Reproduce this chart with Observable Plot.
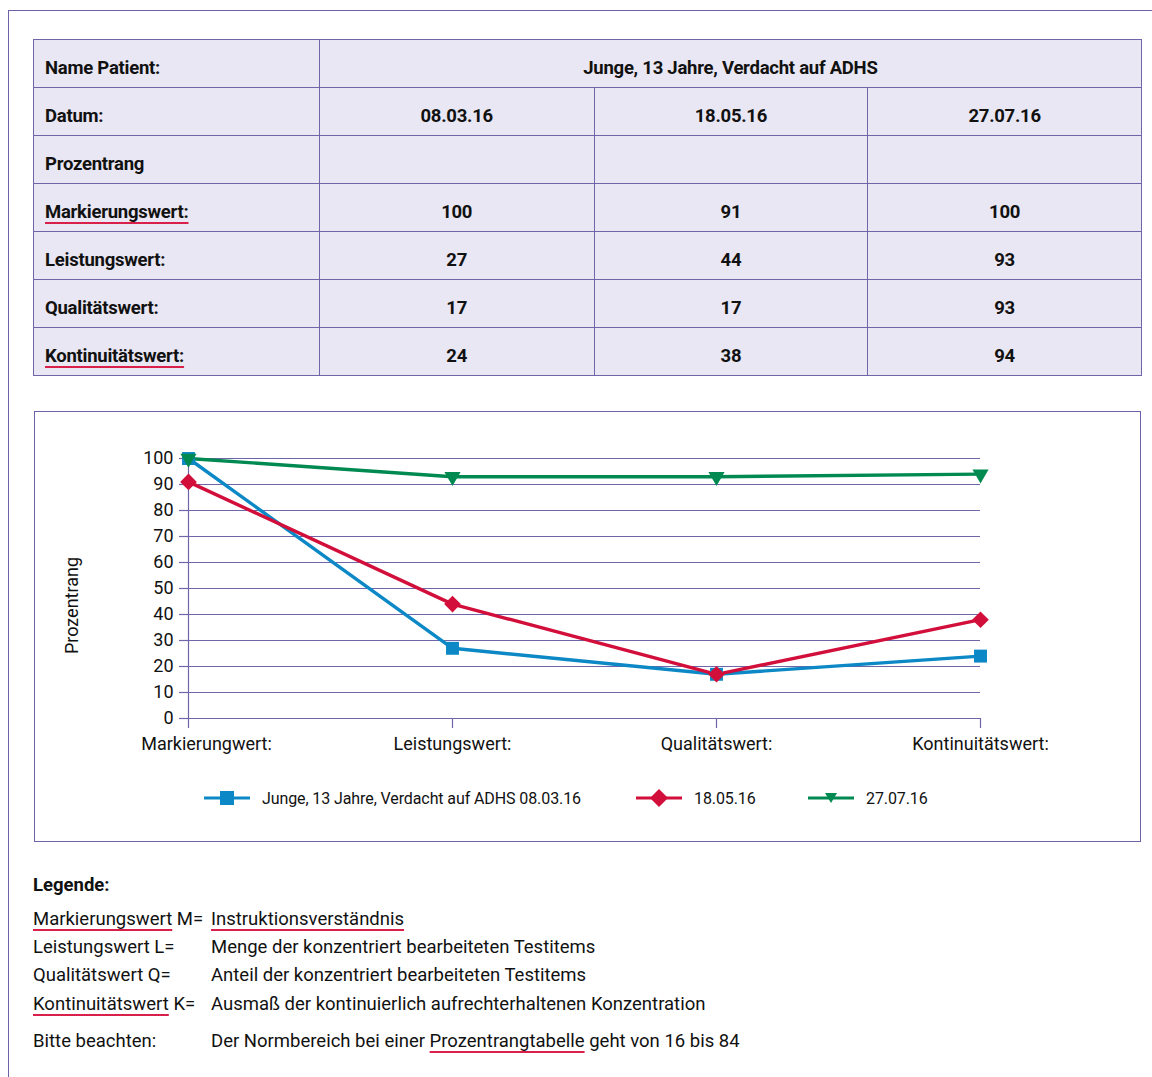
<!DOCTYPE html>
<html lang="de">
<head>
<meta charset="utf-8">
<script src="https://cdn.jsdelivr.net/npm/d3@7"></script>
<script src="https://cdn.jsdelivr.net/npm/@observablehq/plot@0.6"></script>
<style>
  html, body { margin: 0; padding: 0; background: #fff; overflow: hidden; }
  body { width: 1152px; height: 1077px; position: relative; font-family: Roboto, "Noto Sans", sans-serif; color: #111; }
  .rahmen { position: absolute; left: 8px; top: 10px; width: 1170px; height: 1100px; border: 1.5px solid #6b62a8; box-sizing: border-box; }
  table.werte { position: absolute; left: 33px; top: 39px; width: 1109px; border-collapse: collapse; background: #e9e7f3; font-weight: 700; font-size: 18.5px; letter-spacing: -0.25px; }
  table.werte td { border: 1.5px solid #6f66aa; height: 48px; padding: 8px 0 0 0; text-align: center; vertical-align: middle; box-sizing: border-box; }
  table.werte td.kopf { text-align: left; padding-left: 11px; }
  .rot { text-decoration: underline; text-decoration-color: #d9204a; text-decoration-thickness: 1.5px; text-underline-offset: 4px; }
  .diagramm { position: absolute; left: 34px; top: 411px; width: 1107px; height: 431px; border: 1.3px solid #6b62a8; box-sizing: border-box; }
  #plot { position: absolute; left: 34px; top: 411px; }
  .legende { position: absolute; top: 787px; height: 22px; display: flex; align-items: center; font-size: 16px; letter-spacing: -0.1px; }
  .legende svg { margin-right: 10px; }
  .erkl { position: absolute; left: 33px; font-size: 18.5px; line-height: 22px; }
  .erkl b { font-weight: 700; }
  .sp2 { position: absolute; left: 211px; font-size: 18.5px; line-height: 22px; }
</style>
</head>
<body>
<div class="rahmen"></div>
<table class="werte" id="tabelle"></table>
<div class="diagramm"></div>
<div id="plot"></div>
<div id="legende"></div>

<div class="erkl" style="top:874px"><b>Legende:</b></div>
<div class="erkl" style="top:908px"><span class="rot">Markierungswert</span> M=</div>
<div class="sp2" style="top:908px"><span class="rot">Instruktionsverständnis</span></div>
<div class="erkl" style="top:936px">Leistungswert L=</div>
<div class="sp2" style="top:936px">Menge der konzentriert bearbeiteten Testitems</div>
<div class="erkl" style="top:964px">Qualitätswert Q=</div>
<div class="sp2" style="top:964px">Anteil der konzentriert bearbeiteten Testitems</div>
<div class="erkl" style="top:993px"><span class="rot">Kontinuitätswert</span> K=</div>
<div class="sp2" style="top:993px">Ausmaß der kontinuierlich aufrechterhaltenen Konzentration</div>
<div class="erkl" style="top:1030px">Bitte beachten:</div>
<div class="sp2" style="top:1030px">Der Normbereich bei einer <span class="rot">Prozentrangtabelle</span> geht von 16 bis 84</div>

<script>
// Testdaten: Prozentränge je Messzeitpunkt
const patient = "Junge, 13 Jahre, Verdacht auf ADHS";
const termine = ["08.03.16", "18.05.16", "27.07.16"];
const tabellenZeilen = ["Markierungswert:", "Leistungswert:", "Qualitätswert:", "Kontinuitätswert:"];
const kategorien = ["Markierungwert:", "Leistungswert:", "Qualitätswert:", "Kontinuitätswert:"];
const werte080316 = [100, 27, 17, 24];
const werte180516 = [91, 44, 17, 38];
const werte270716 = [100, 93, 93, 94];
const yTicks = [0, 10, 20, 30, 40, 50, 60, 70, 80, 90, 100];

const serien = [
  {name: patient + " " + termine[0], werte: werte080316, farbe: "#0b88c5", symbol: "square", r: 7.3, rotate: 0},
  {name: termine[1], werte: werte180516, farbe: "#d20f3a", symbol: "diamond2", r: 7.5, rotate: 0},
  {name: termine[2], werte: werte270716, farbe: "#008a52", symbol: "triangle", r: 6, rotate: 180}
];

const linie = "#6f66aa";
const schrift = 'Roboto, "Noto Sans", sans-serif';

// Tabelle
const tab = document.getElementById("tabelle");
const unterstrichen = new Set(["Markierungswert:", "Kontinuitätswert:"]);
let html = `<colgroup><col style="width:286px"><col style="width:275px"><col style="width:274px"><col style="width:274px"></colgroup>`;
html += `<tr><td class="kopf">Name Patient:</td><td colspan="3">${patient}</td></tr>`;
html += `<tr><td class="kopf">Datum:</td>${termine.map(t => `<td>${t}</td>`).join("")}</tr>`;
html += `<tr><td class="kopf">Prozentrang</td><td></td><td></td><td></td></tr>`;
tabellenZeilen.forEach((z, i) => {
  const label = unterstrichen.has(z) ? `<span class="rot">${z}</span>` : z;
  html += `<tr><td class="kopf">${label}</td>${serien.map(s => `<td>${s.werte[i]}</td>`).join("")}</tr>`;
});
tab.innerHTML = html;

// Diagramm
const zeilen = serien.flatMap(s => s.werte.map((w, i) => ({serie: s.name, kategorie: kategorien[i], wert: w})));

const chart = Plot.plot({
  width: 1106,
  height: 360,
  marginLeft: 154,
  marginRight: 160,
  marginTop: 47,
  marginBottom: 53,
  style: {fontFamily: schrift, fontSize: "18px", color: "#111", background: "transparent", overflow: "visible"},
  x: {type: "point", domain: kategorien, padding: 0},
  y: {domain: [0, 100]},
  color: {domain: serien.map(s => s.name), range: serien.map(s => s.farbe)},
  marks: [
    Plot.ruleY(yTicks, {stroke: linie, strokeWidth: 1.2}),
    // senkrechte Achse, unten um die Tick-Länge verlängert
    Plot.ruleX([kategorien[0]], {stroke: linie, strokeWidth: 1.2, insetBottom: -10}),
    Plot.axisY({ticks: yTicks, tickSize: 9, tickPadding: 6, stroke: linie, strokeWidth: 1.2, label: null, fill: "#111"}),
    Plot.axisX(kategorien.slice(1), {tickSize: 10, tickPadding: 9, stroke: linie, strokeWidth: 1.2, label: null, fill: "#111"}),
    // erste Kategorie: Beschriftung etwas nach rechts versetzt
    Plot.axisX([kategorien[0]], {tickSize: 0, tickPadding: 19, dx: 18, label: null, fill: "#111"}),
    Plot.text(["Prozentrang"], {frameAnchor: "left", textAnchor: "middle", dx: -116, dy: 17, rotate: -90, fontSize: 18, fill: "#111"}),
    Plot.line(zeilen, {x: "kategorie", y: "wert", z: "serie", stroke: "serie", strokeWidth: 3.4}),
    ...serien.map(s => Plot.dot(zeilen.filter(d => d.serie === s.name), {
      x: "kategorie", y: "wert", symbol: () => s.symbol, fill: s.farbe, stroke: "none", r: s.r, rotate: s.rotate
    }))
  ]
});
document.getElementById("plot").appendChild(chart);

// Legende unter dem Diagramm
const legPos = [204, 636, 808];
const symbolPfad = {
  square: `<rect x="16" y="4" width="14" height="14"/>`,
  diamond2: `<path d="M23 2 L32 11 L23 20 L14 11 Z"/>`,
  triangle: `<path d="M17 6 L29 6 L23 16 Z"/>`
};
const leg = document.getElementById("legende");
serien.forEach((s, i) => {
  const div = document.createElement("div");
  div.className = "legende";
  div.style.left = legPos[i] + "px";
  div.innerHTML = `<svg width="48" height="22"><line x1="0" x2="46" y1="11" y2="11" stroke="${s.farbe}" stroke-width="3"/><g fill="${s.farbe}">${symbolPfad[s.symbol]}</g></svg><span>${s.name}</span>`;
  leg.appendChild(div);
});
</script>
</body>
</html>
